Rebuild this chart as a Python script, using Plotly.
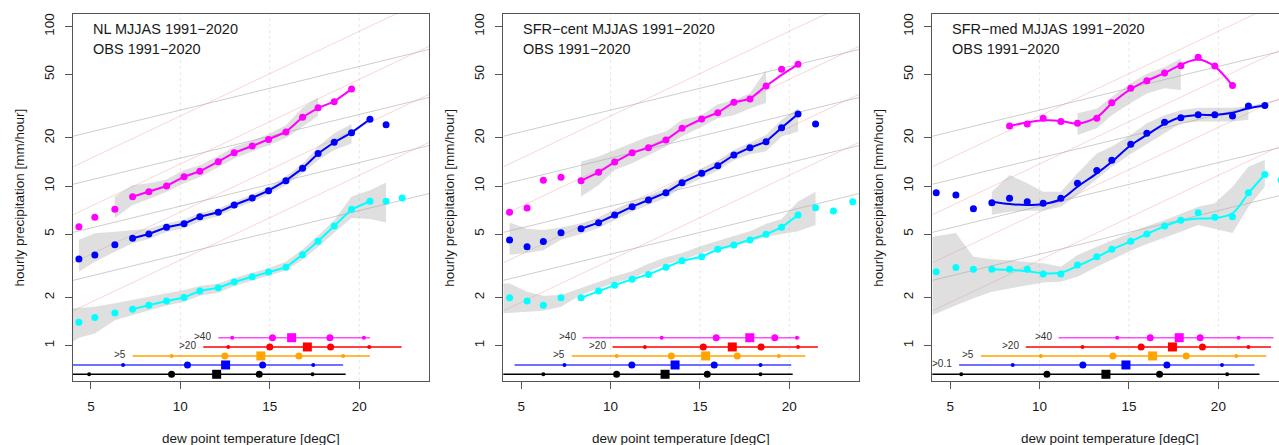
import math
import plotly.graph_objects as go

W, H = 1279, 445

# ---------------- texts / ticks ----------------
panel_titles = ["NL MJJAS 1991−2020", "SFR−cent MJJAS 1991−2020", "SFR−med MJJAS 1991−2020"]
obs_title = "OBS 1991−2020"
x_title = "dew point temperature [degC]"
y_title = "hourly precipitation [mm/hour]"
y_ticks = [1, 2, 5, 10, 20, 50, 100]
x_ticks = [5, 10, 15, 20]
grid_x = [10, 15, 20]

# ---------------- reference scaling lines ----------------
ref_t = [4.0, 24.0]
cc_rate = 1.065          # ~6.5 %/degC (grey)
cc2_rate = 1.13          # ~13 %/degC (pink)
cc_start = [20.5, 10.25, 5.12, 2.56]     # value at T=4
cc2_start = [13.2, 6.6, 3.3, 1.65]

# ---------------- panel 1 (NL) ----------------
p1_t = [4.33, 5.22, 6.34, 7.33, 8.24, 9.23, 10.21, 11.09, 12.12, 13.01, 14.02, 14.93,
        15.9, 16.83, 17.7, 18.6, 19.57, 20.6, 21.5, 22.4]
p1_mag = [5.56, 6.36, 7.14, 8.57, 9.21, 10.0, 11.43, 12.37, 14.2, 16.17, 17.8, 19.6,
          21.8, 27.0, 30.9, 33.8, 40.5]
p1_mag_i0 = 0
p1_mag_line = [8.57, 9.21, 10.0, 11.43, 12.37, 14.2, 16.17, 17.8, 19.6, 21.8, 27.0,
               30.9, 33.8, 40.5]
p1_mag_line_i0 = 3
p1_blu = [3.49, 3.69, 4.28, 4.70, 5.0, 5.51, 5.80, 6.42, 6.84, 7.60, 8.41, 9.35, 10.8,
          12.9, 16.0, 18.8, 21.6, 26.2, 24.2]
p1_blu_i0 = 0
p1_blu_line = [4.70, 5.0, 5.51, 5.80, 6.42, 6.84, 7.60, 8.41, 9.35, 10.8, 12.9, 16.0,
               18.8, 21.6, 26.2]
p1_blu_line_i0 = 3
p1_cya = [1.40, 1.50, 1.60, 1.69, 1.79, 1.90, 2.00, 2.20, 2.30, 2.50, 2.70, 2.89, 3.09,
          3.71, 4.50, 5.61, 7.14, 8.02, 8.02, 8.41]
p1_cya_i0 = 0
p1_cya_line = [1.69, 1.79, 1.90, 2.00, 2.20, 2.30, 2.50, 2.70, 2.89, 3.09, 3.71, 4.50,
               5.61, 7.14, 8.02]
p1_cya_line_i0 = 3
p1_mag_band_t = [6.34, 7.33, 8.24, 9.23, 10.21, 11.09, 12.12, 13.01, 14.02, 14.93, 15.9, 16.83, 17.7]
p1_mag_band_hi = [8.6, 10.1, 10.4, 11.0, 12.6, 13.5, 15.4, 17.6, 19.2, 21.2, 24.0, 31.0, 36.0]
p1_mag_band_lo = [6.3, 7.6, 8.3, 9.2, 10.4, 11.4, 13.1, 14.9, 16.5, 18.0, 20.0, 23.5, 27.5]
p1_blu_band_t = [4.33, 5.22, 6.34, 7.33, 8.24, 9.23, 10.21, 11.09, 12.12, 13.01, 14.02,
                 14.93, 15.9, 16.83, 17.7, 18.6, 19.57]
p1_blu_band_hi = [4.6, 5.05, 5.17, 5.3, 5.4, 5.85, 6.15, 6.8, 7.2, 8.0, 8.85, 9.85, 11.5,
                  13.8, 17.7, 21.4, 24.5]
p1_blu_band_lo = [2.9, 3.35, 3.87, 4.37, 4.65, 5.15, 5.45, 6.0, 6.45, 7.2, 7.95, 8.85,
                  10.1, 12.0, 14.5, 16.8, 18.5]
p1_cya_band_t = [4.0, 4.33, 5.22, 6.34, 7.33, 8.24, 9.23, 10.21, 11.09, 12.12, 13.01,
                 14.02, 14.93, 15.9, 16.83, 17.7, 18.6, 19.57, 20.6, 21.5]
p1_cya_band_hi = [1.71, 1.72, 1.75, 1.84, 1.93, 2.02, 2.12, 2.23, 2.36, 2.45, 2.65, 2.85,
                  3.05, 3.35, 4.0, 4.9, 6.1, 8.6, 9.4, 10.5]
p1_cya_band_lo = [1.06, 1.12, 1.19, 1.44, 1.55, 1.66, 1.78, 1.88, 2.05, 2.14, 2.36, 2.56,
                  2.74, 2.95, 3.45, 4.15, 5.1, 6.3, 6.2, 5.9]
# distribution bars: [start, p_lo_small, p_lo_big, median, p_hi_big, p_hi_small, end]
p1_dist_all = [3.0, 4.9, 9.51, 12.03, 14.41, 17.39, 19.24]
p1_dist_01 = [3.0, 6.8, 10.4, 12.53, 14.6, 17.43, 19.1]
p1_dist_05 = [7.33, 9.51, 12.49, 14.5, 16.63, 19.1, 20.6]
p1_dist_20 = [11.28, 12.68, 15.0, 17.1, 18.4, 20.56, 22.37]
p1_dist_40 = [12.12, 12.9, 15.15, 16.22, 18.36, 20.26, 20.6]

# ---------------- panel 2 (SFR-cent) ----------------
p2_t = [4.35, 5.33, 6.24, 7.23, 8.35, 9.33, 10.23, 11.21, 12.12, 13.1, 14.0, 15.1, 16.0,
        16.9, 17.8, 18.7, 19.57, 20.49, 21.47, 22.47, 23.55]
p2_mag = [6.84, 7.28, 10.86, 11.35, 10.8, 12.18, 14.14, 16.18, 17.39, 19.42, 22.98, 26.3,
          28.8, 33.5, 35.1, 42.4, 53.9, 57.9]
p2_mag_i0 = 0
p2_mag_line = [10.8, 12.18, 14.14, 16.18, 17.39, 19.42, 22.98, 26.3, 28.8, 33.5, 35.1,
               42.4, 49.7, 57.9]
p2_mag_line_i0 = 4
p2_blu = [4.59, 4.16, 4.48, 5.10, 5.40, 5.89, 6.58, 7.42, 8.17, 9.08, 10.49, 12.02, 13.41,
          15.64, 17.38, 18.95, 23.2, 28.3, 24.5]
p2_blu_i0 = 0
p2_blu_line = [5.40, 5.89, 6.58, 7.42, 8.17, 9.08, 10.49, 12.02, 13.41, 15.64, 17.38,
               18.95, 23.2, 28.3]
p2_blu_line_i0 = 4
p2_cya = [1.99, 1.90, 1.79, 1.99, 1.99, 2.20, 2.39, 2.60, 2.79, 3.09, 3.40, 3.60, 4.01,
          4.27, 4.59, 4.98, 5.51, 6.58, 7.31, 6.97, 7.97]
p2_cya_i0 = 0
p2_cya_line = [1.99, 2.20, 2.39, 2.60, 2.79, 3.09, 3.40, 3.60, 4.01, 4.27, 4.59, 4.98,
               5.51, 6.58]
p2_cya_line_i0 = 4
p2_mag_band_t = [8.35, 9.33, 10.23, 11.21, 12.12, 13.1, 14.0, 15.1, 16.0, 16.9, 17.8, 18.7]
p2_mag_band_hi = [14.2, 15.3, 16.8, 18.5, 20.4, 22.0, 26.0, 27.8, 32.5, 34.5, 38.1, 53.4]
p2_mag_band_lo = [8.6, 10.1, 12.6, 13.9, 15.6, 17.7, 20.5, 23.5, 26.6, 27.8, 30.6, 33.2]
p2_blu_band_t = [4.35, 5.33, 6.24, 7.23, 8.35, 9.33, 10.23, 11.21, 12.12, 13.1, 14.0,
                 15.1, 16.0, 16.9, 17.8, 18.7, 19.57, 20.49]
p2_blu_band_hi = [5.9, 5.4, 5.3, 5.5, 5.85, 6.3, 7.05, 7.95, 8.75, 9.75, 11.2, 12.9, 14.4,
                  16.8, 18.7, 20.9, 26.0, 30.6]
p2_blu_band_lo = [3.7, 3.8, 3.95, 4.6, 5.0, 5.45, 6.1, 6.9, 7.6, 8.45, 9.8, 11.2, 12.5,
                  14.5, 15.8, 16.5, 20.4, 22.0]
p2_cya_band_t = [4.0, 4.35, 5.33, 6.24, 7.23, 8.35, 9.33, 10.23, 11.21, 12.12, 13.1, 14.0,
                 15.1, 16.0, 16.9, 17.8, 18.7, 19.57, 20.49, 21.47]
p2_cya_band_hi = [2.45, 2.45, 2.17, 2.05, 2.07, 2.30, 2.50, 2.72, 2.92, 3.25, 3.57, 3.80,
                  4.22, 4.50, 4.85, 5.2, 5.8, 6.2, 8.0, 9.2]
p2_cya_band_lo = [1.59, 1.59, 1.63, 1.65, 1.75, 2.08, 2.27, 2.47, 2.65, 2.93, 3.23, 3.42,
                  3.80, 4.05, 4.25, 4.45, 4.8, 5.0, 5.2, 5.7]
p2_dist_all = [3.0, 6.24, 10.34, 13.05, 15.41, 18.39, 20.19]
p2_dist_01 = [4.63, 7.42, 11.19, 13.61, 15.8, 18.39, 20.11]
p2_dist_05 = [7.83, 10.34, 13.4, 15.32, 17.09, 19.41, 20.9]
p2_dist_20 = [10.11, 11.92, 15.19, 16.81, 18.42, 20.49, 21.6]
p2_dist_40 = [8.44, 12.86, 15.91, 17.79, 19.19, 20.43, 20.58]

# ---------------- panel 3 (SFR-med) ----------------
p3_t = [4.22, 5.32, 6.3, 7.33, 8.32, 9.31, 10.2, 11.19, 12.12, 13.2, 14.04, 15.1, 16.0,
        16.99, 17.9, 18.87, 19.8, 20.79, 21.68, 22.6, 23.5]
p3_mag = [23.8, 24.5, 26.6, 25.4, 24.7, 26.6, 33.3, 41.0, 45.7, 51.1, 56.7, 64.1, 56.5, 42.6]
p3_mag_i0 = 4
p3_mag_line = [23.8, 25.0, 25.8, 25.6, 24.6, 27.0, 33.0, 40.5, 45.8, 51.0, 57.5, 62.0,
               56.0, 42.6]
p3_mag_line_i0 = 4
p3_blu = [9.08, 8.78, 7.21, 7.86, 8.37, 7.97, 7.79, 8.37, 10.4, 12.5, 14.5, 18.3, 21.4,
          25.1, 26.8, 28.0, 28.0, 27.5, 31.7, 32.0]
p3_blu_i0 = 0
p3_blu_line = [7.97, 7.71, 7.6, 7.71, 8.26, 9.9, 12.0, 14.2, 18.0, 20.9, 24.5, 27.0,
               27.9, 27.9, 28.8, 30.7, 32.0]
p3_blu_line_i0 = 3
p3_cya = [2.90, 3.08, 3.01, 3.01, 3.01, 3.01, 2.81, 2.81, 3.20, 3.60, 4.01, 4.50, 5.0,
          5.61, 6.1, 6.8, 6.36, 6.42, 9.08, 11.8, 10.9]
p3_cya_i0 = 0
p3_cya_line = [3.01, 2.98, 2.92, 2.84, 2.86, 3.15, 3.58, 4.0, 4.5, 5.0, 5.6, 6.05, 6.25,
               6.3, 6.75, 9.0, 11.8]
p3_cya_line_i0 = 3
p3_mag_band_t = [12.12, 13.2, 14.04, 15.1, 16.0, 16.99, 17.9]
p3_mag_band_hi = [28.6, 30.5, 36.3, 44.0, 50.6, 55.7, 63.0]
p3_mag_band_lo = [20.9, 23.0, 27.8, 33.2, 38.0, 41.0, 40.0]
p3_blu_band_t = [7.33, 8.32, 9.31, 10.2, 11.19, 12.12, 13.2, 14.04, 15.1, 16.0, 16.99,
                 17.9, 18.87, 19.8, 20.79, 21.68]
p3_blu_band_hi = [9.2, 11.7, 10.4, 9.2, 9.2, 12.0, 16.0, 17.7, 20.9, 24.7, 27.8, 29.9,
                  31.0, 31.0, 31.0, 31.5]
p3_blu_band_lo = [6.6, 6.9, 7.0, 7.0, 7.4, 8.8, 11.0, 13.2, 15.9, 18.5, 21.4, 24.7,
                  25.4, 25.4, 25.4, 26.0]
p3_cya_band_t = [4.0, 4.22, 5.32, 6.3, 7.33, 8.32, 9.31, 10.2, 11.19, 12.12, 13.2, 14.04,
                 15.1, 16.0, 16.99, 17.9, 18.87, 19.8, 20.79, 21.68, 22.6]
p3_cya_band_hi = [4.8, 4.85, 5.07, 3.6, 3.47, 3.42, 3.35, 3.28, 3.12, 3.69, 4.16, 4.54,
                  5.10, 5.61, 6.1, 6.7, 7.42, 7.8, 9.9, 13.2, 14.6]
p3_cya_band_lo = [1.55, 1.59, 1.79, 1.98, 2.17, 2.28, 2.39, 2.48, 2.51, 2.70, 3.12, 3.47,
                  3.93, 4.33, 4.77, 5.17, 5.69, 5.4, 5.07, 7.4, 9.9]
p3_dist_all = [3.0, 5.62, 10.41, 13.71, 16.71, 20.49, 22.3]
p3_dist_01 = [5.5, 8.5, 12.42, 14.83, 17.12, 20.2, 22.02]
p3_dist_05 = [6.72, 10.07, 14.1, 16.32, 18.2, 21.0, 22.67]
p3_dist_20 = [9.23, 12.4, 15.68, 17.43, 19.11, 21.68, 22.94]
p3_dist_40 = [11.06, 14.34, 16.19, 17.81, 18.98, 21.13, 23.08]

# distribution row levels (y values below the curves) and labels
dist_levels = [0.660, 0.755, 0.860, 0.979, 1.119]
dist_labels = ["", ">0.1", ">5", ">20", ">40"]
dist_colors = ["#000000", "#0000FF", "#FFA500", "#FF0000", "#FF00FF"]
dist_line_colors = ["#000000", "rgba(0,0,255,0.75)", "#FFA500", "#FF0000", "rgba(255,0,255,0.7)"]

# ---------------- styling ----------------
C_MAG, C_BLU, C_CYA = "#FF00FF", "#0000FF", "#00FFFF"
BAND = "rgba(170,170,170,0.38)"
FONT = "Liberation Sans, Arial, Helvetica, sans-serif"

x_dom = [[73 / W, 429 / W], [503.3 / W, 859 / W], [932.3 / W, 1.0]]
x_rng = [[4.0, 23.9], [4.0, 23.9], [4.0, 23.39]]
y_dom = [1 - 381 / H, 1 - 14 / H]
y_rng = [-0.2226, 2.0784]

panels = [
    dict(t=p1_t,
         series=[(p1_cya, p1_cya_i0, p1_cya_line, p1_cya_line_i0, C_CYA),
                 (p1_blu, p1_blu_i0, p1_blu_line, p1_blu_line_i0, C_BLU),
                 (p1_mag, p1_mag_i0, p1_mag_line, p1_mag_line_i0, C_MAG)],
         bands=[(p1_cya_band_t, p1_cya_band_lo, p1_cya_band_hi),
                (p1_blu_band_t, p1_blu_band_lo, p1_blu_band_hi),
                (p1_mag_band_t, p1_mag_band_lo, p1_mag_band_hi)],
         dist=[p1_dist_all, p1_dist_01, p1_dist_05, p1_dist_20, p1_dist_40],
         spline=False),
    dict(t=p2_t,
         series=[(p2_cya, p2_cya_i0, p2_cya_line, p2_cya_line_i0, C_CYA),
                 (p2_blu, p2_blu_i0, p2_blu_line, p2_blu_line_i0, C_BLU),
                 (p2_mag, p2_mag_i0, p2_mag_line, p2_mag_line_i0, C_MAG)],
         bands=[(p2_cya_band_t, p2_cya_band_lo, p2_cya_band_hi),
                (p2_blu_band_t, p2_blu_band_lo, p2_blu_band_hi),
                (p2_mag_band_t, p2_mag_band_lo, p2_mag_band_hi)],
         dist=[p2_dist_all, p2_dist_01, p2_dist_05, p2_dist_20, p2_dist_40],
         spline=False),
    dict(t=p3_t,
         series=[(p3_cya, p3_cya_i0, p3_cya_line, p3_cya_line_i0, C_CYA),
                 (p3_blu, p3_blu_i0, p3_blu_line, p3_blu_line_i0, C_BLU),
                 (p3_mag, p3_mag_i0, p3_mag_line, p3_mag_line_i0, C_MAG)],
         bands=[(p3_cya_band_t, p3_cya_band_lo, p3_cya_band_hi),
                (p3_blu_band_t, p3_blu_band_lo, p3_blu_band_hi),
                (p3_mag_band_t, p3_mag_band_lo, p3_mag_band_hi)],
         dist=[p3_dist_all, p3_dist_01, p3_dist_05, p3_dist_20, p3_dist_40],
         spline=True),
]

fig = go.Figure()
annotations = []
shapes = []

for k, p in enumerate(panels, start=1):
    sfx = "" if k == 1 else str(k)
    xa, ya = "x" + sfx, "y" + sfx

    # reference lines
    for a in cc_start:
        fig.add_trace(go.Scatter(x=ref_t, y=[a, a * cc_rate ** (ref_t[1] - ref_t[0])],
                                 mode="lines", line=dict(color="rgba(150,150,150,0.6)", width=0.8),
                                 xaxis=xa, yaxis=ya, hoverinfo="skip"))
    for a in cc2_start:
        fig.add_trace(go.Scatter(x=ref_t, y=[a, a * cc2_rate ** (ref_t[1] - ref_t[0])],
                                 mode="lines", line=dict(color="rgba(245,150,150,0.5)", width=0.8),
                                 xaxis=xa, yaxis=ya, hoverinfo="skip"))

    # uncertainty bands
    for bt, blo, bhi in p["bands"]:
        fig.add_trace(go.Scatter(x=list(bt) + list(bt)[::-1], y=list(bhi) + list(blo)[::-1],
                                 mode="lines", fill="toself", fillcolor=BAND,
                                 line=dict(width=0, color=BAND), xaxis=xa, yaxis=ya,
                                 hoverinfo="skip"))

    # fitted lines and dots
    t = p["t"]
    for dots, i0, line, li0, col in p["series"]:
        fig.add_trace(go.Scatter(x=t[li0:li0 + len(line)], y=line, mode="lines",
                                 line=dict(color=col, width=2,
                                           shape="spline" if p["spline"] else "linear",
                                           smoothing=1.0),
                                 xaxis=xa, yaxis=ya, hoverinfo="skip"))
        fig.add_trace(go.Scatter(x=t[i0:i0 + len(dots)], y=dots, mode="markers",
                                 marker=dict(color=col, size=7), xaxis=xa, yaxis=ya,
                                 hoverinfo="skip"))

    # distribution rows
    for j, d in enumerate(p["dist"]):
        lev = dist_levels[j]
        fig.add_trace(go.Scatter(x=[d[0], d[6]], y=[lev, lev], mode="lines",
                                 line=dict(color=dist_line_colors[j], width=1.6),
                                 xaxis=xa, yaxis=ya, hoverinfo="skip"))
        fig.add_trace(go.Scatter(x=[d[1], d[5]], y=[lev, lev], mode="markers",
                                 marker=dict(color=dist_colors[j], size=4),
                                 xaxis=xa, yaxis=ya, hoverinfo="skip"))
        fig.add_trace(go.Scatter(x=[d[2], d[4]], y=[lev, lev], mode="markers",
                                 marker=dict(color=dist_colors[j], size=7),
                                 xaxis=xa, yaxis=ya, hoverinfo="skip"))
        fig.add_trace(go.Scatter(x=[d[3]], y=[lev], mode="markers",
                                 marker=dict(color=dist_colors[j], size=9, symbol="square"),
                                 xaxis=xa, yaxis=ya, hoverinfo="skip"))
        if dist_labels[j] and d[0] >= 5.0:
            annotations.append(dict(x=d[0], y=math.log10(lev), xref=xa, yref=ya,
                                    text=dist_labels[j], showarrow=False, xanchor="right",
                                    yanchor="middle", xshift=-5, yshift=1,
                                    font=dict(size=10, color="#333333", family=FONT)))

    # grid lines
    for gx in grid_x:
        shapes.append(dict(type="line", x0=gx, x1=gx, y0=0, y1=1, xref=xa,
                           yref=ya + " domain", layer="below",
                           line=dict(color="#E6E6E6", width=1, dash="dot")))

    # panel texts
    x0px = x_dom[k - 1][0] * W
    annotations.append(dict(x=(x0px + 18) / W, y=1 - 28.5 / H, xref="paper", yref="paper",
                            text=panel_titles[k - 1], showarrow=False, xanchor="left",
                            yanchor="middle", font=dict(size=14.5, color="#1a1a1a", family=FONT)))
    annotations.append(dict(x=(x0px + 18) / W, y=1 - 48.5 / H, xref="paper", yref="paper",
                            text=obs_title, showarrow=False, xanchor="left",
                            yanchor="middle", font=dict(size=14.5, color="#1a1a1a", family=FONT)))
    # axis titles
    xc = x0px + 178
    annotations.append(dict(x=xc / W, y=1 - 438 / H, xref="paper", yref="paper", text=x_title,
                            showarrow=False, xanchor="center", yanchor="middle",
                            font=dict(size=13.5, color="#1a1a1a", family=FONT)))
    annotations.append(dict(x=(x0px - 54) / W, y=1 - 197.5 / H, xref="paper", yref="paper",
                            text=y_title, showarrow=False, textangle=-90, xanchor="center",
                            yanchor="middle", font=dict(size=13.5, color="#1a1a1a", family=FONT)))

    fig.layout["xaxis" + sfx] = dict(domain=x_dom[k - 1], range=x_rng[k - 1], anchor=ya,
                                     tickvals=x_ticks, ticktext=[str(v) for v in x_ticks],
                                     ticks="outside", ticklen=7, tickcolor="#555555",
                                     showline=True, linecolor="#555555", linewidth=1,
                                     mirror=True, showgrid=False, zeroline=False,
                                     ticklabelstandoff=6,
                                     tickfont=dict(size=13.5, color="#1a1a1a", family=FONT))
    fig.layout["yaxis" + sfx] = dict(domain=y_dom, range=y_rng, type="log", anchor=xa,
                                     tickvals=y_ticks, ticktext=[str(v) for v in y_ticks],
                                     tickangle=-90, ticks="outside", ticklen=7,
                                     tickcolor="#555555", showline=True, linecolor="#555555",
                                     linewidth=1, mirror=(k != 3), showgrid=False,
                                     zeroline=False, ticklabelstandoff=6,
                                     layer="below traces" if k == 3 else "above traces",
                                     tickfont=dict(size=13.5, color="#1a1a1a", family=FONT))

fig.update_layout(width=W, height=H, margin=dict(l=0, r=0, t=0, b=0),
                  plot_bgcolor="white", paper_bgcolor="white", showlegend=False,
                  annotations=annotations, shapes=shapes, font=dict(family=FONT))

fig.write_html("out.html")
